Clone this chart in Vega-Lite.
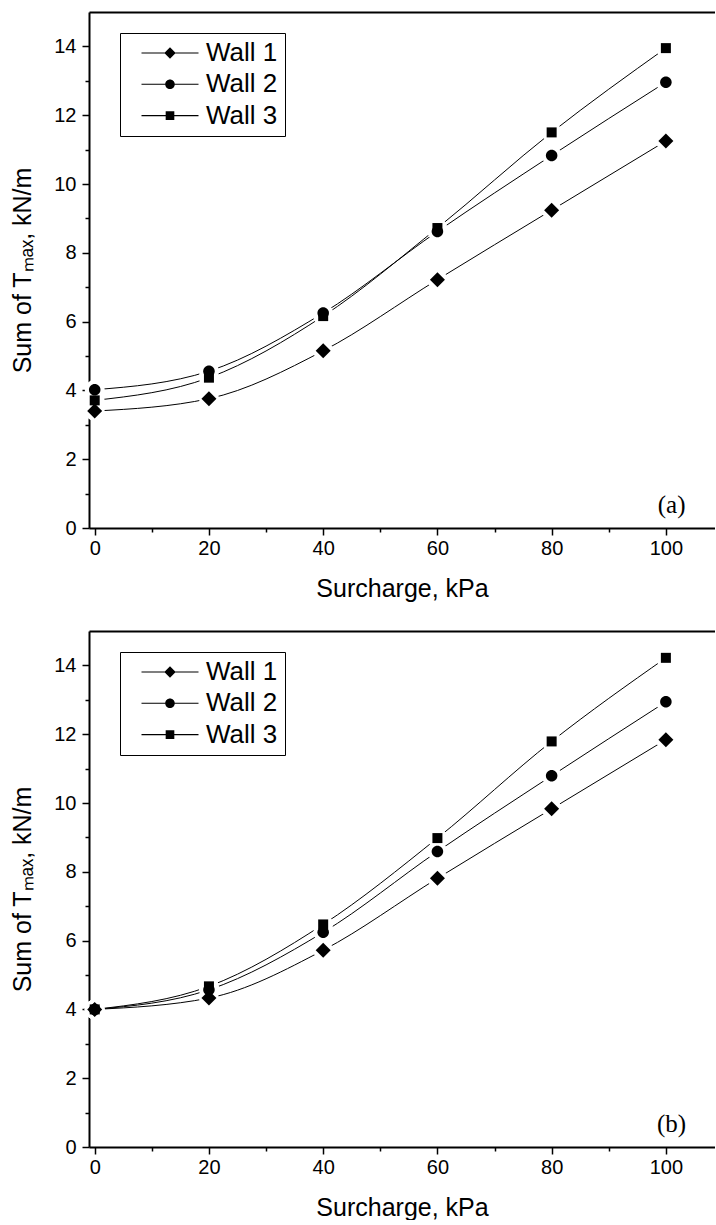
{
  "$schema": "https://vega.github.io/schema/vega-lite/v6.json",
  "padding": {"left": 10, "top": 12, "right": 0, "bottom": 0},
  "spacing": 30,
  "resolve": {"scale": {"shape": "independent"}, "legend": {"shape": "independent"}},
  "datasets": {
    "pts": [
      {"panel": "a", "wall": "Wall 1", "surcharge": 0, "tmax": 3.40},
      {"panel": "a", "wall": "Wall 1", "surcharge": 20, "tmax": 3.76},
      {"panel": "a", "wall": "Wall 1", "surcharge": 40, "tmax": 5.15},
      {"panel": "a", "wall": "Wall 1", "surcharge": 60, "tmax": 7.22},
      {"panel": "a", "wall": "Wall 1", "surcharge": 80, "tmax": 9.24},
      {"panel": "a", "wall": "Wall 1", "surcharge": 100, "tmax": 11.25},
      {"panel": "a", "wall": "Wall 2", "surcharge": 0, "tmax": 4.02},
      {"panel": "a", "wall": "Wall 2", "surcharge": 20, "tmax": 4.56},
      {"panel": "a", "wall": "Wall 2", "surcharge": 40, "tmax": 6.25},
      {"panel": "a", "wall": "Wall 2", "surcharge": 60, "tmax": 8.62},
      {"panel": "a", "wall": "Wall 2", "surcharge": 80, "tmax": 10.83},
      {"panel": "a", "wall": "Wall 2", "surcharge": 100, "tmax": 12.96},
      {"panel": "a", "wall": "Wall 3", "surcharge": 0, "tmax": 3.71},
      {"panel": "a", "wall": "Wall 3", "surcharge": 20, "tmax": 4.37},
      {"panel": "a", "wall": "Wall 3", "surcharge": 40, "tmax": 6.16},
      {"panel": "a", "wall": "Wall 3", "surcharge": 60, "tmax": 8.72},
      {"panel": "a", "wall": "Wall 3", "surcharge": 80, "tmax": 11.50},
      {"panel": "a", "wall": "Wall 3", "surcharge": 100, "tmax": 13.95},
      {"panel": "b", "wall": "Wall 1", "surcharge": 0, "tmax": 4.0},
      {"panel": "b", "wall": "Wall 1", "surcharge": 20, "tmax": 4.33},
      {"panel": "b", "wall": "Wall 1", "surcharge": 40, "tmax": 5.72},
      {"panel": "b", "wall": "Wall 1", "surcharge": 60, "tmax": 7.81},
      {"panel": "b", "wall": "Wall 1", "surcharge": 80, "tmax": 9.83},
      {"panel": "b", "wall": "Wall 1", "surcharge": 100, "tmax": 11.84},
      {"panel": "b", "wall": "Wall 2", "surcharge": 0, "tmax": 4.0},
      {"panel": "b", "wall": "Wall 2", "surcharge": 20, "tmax": 4.57},
      {"panel": "b", "wall": "Wall 2", "surcharge": 40, "tmax": 6.24},
      {"panel": "b", "wall": "Wall 2", "surcharge": 60, "tmax": 8.59},
      {"panel": "b", "wall": "Wall 2", "surcharge": 80, "tmax": 10.79},
      {"panel": "b", "wall": "Wall 2", "surcharge": 100, "tmax": 12.94},
      {"panel": "b", "wall": "Wall 3", "surcharge": 0, "tmax": 4.0},
      {"panel": "b", "wall": "Wall 3", "surcharge": 20, "tmax": 4.67},
      {"panel": "b", "wall": "Wall 3", "surcharge": 40, "tmax": 6.47},
      {"panel": "b", "wall": "Wall 3", "surcharge": 60, "tmax": 8.98},
      {"panel": "b", "wall": "Wall 3", "surcharge": 80, "tmax": 11.79},
      {"panel": "b", "wall": "Wall 3", "surcharge": 100, "tmax": 14.22}
    ]
  },
  "vconcat": [
    {
      "width": 626, "height": 516,
      "data": {"name": "pts"},
      "transform": [{"filter": "datum.panel === 'a'"}],
      "layer": [
        {
          "mark": {"type": "line", "interpolate": "monotone", "color": "black", "strokeWidth": 1},
          "encoding": {
            "x": {"field": "surcharge", "type": "quantitative", "scale": {"domain": [-1, 108.6], "nice": false, "zero": false},
              "axis": {"orient": "bottom", "values": [0, 20, 40, 60, 80, 100], "tickSize": 7, "tickWidth": 1.5, "domainWidth": 2, "labelPadding": 3, "labelFlush": false, "title": "Surcharge, kPa", "titlePadding": 18}},
            "y": {"field": "tmax", "type": "quantitative", "scale": {"domain": [0, 15], "nice": false},
              "axis": {"orient": "left", "values": [0, 2, 4, 6, 8, 10, 12, 14], "tickSize": 7, "tickWidth": 1.5, "domainWidth": 2, "labelPadding": 6, "title": "Sum of Tₘₐₓ, kN/m", "titlePadding": 18}},
            "detail": {"field": "wall"}
          }
        },
        {
          "mark": {"type": "point", "filled": true, "color": "white", "opacity": 1, "shape": "circle", "size": 400},
          "encoding": {
            "x": {"field": "surcharge", "type": "quantitative",
              "axis": {"orient": "bottom", "values": [10, 30, 50, 70, 90], "tickSize": 4, "tickWidth": 1.5, "labels": false, "domain": false, "title": null}},
            "y": {"field": "tmax", "type": "quantitative",
              "axis": {"orient": "left", "values": [1, 3, 5, 7, 9, 11, 13], "tickSize": 4, "tickWidth": 1.5, "labels": false, "domain": false, "title": null}}
          }
        },
        {
          "mark": {"type": "point", "filled": true, "color": "black", "opacity": 1, "size": 100},
          "encoding": {
            "x": {"field": "surcharge", "type": "quantitative",
              "axis": {"orient": "top", "ticks": false, "labels": false, "domainWidth": 2, "title": null}},
            "y": {"field": "tmax", "type": "quantitative", "axis": null},
            "shape": {"field": "wall", "type": "nominal", "scale": {"domain": ["Wall 1", "Wall 2", "Wall 3"], "range": ["M0,-1.5L1.5,0L0,1.5L-1.5,0Z", "M-1.15,0A1.15,1.15,0,1,1,1.15,0A1.15,1.15,0,1,1,-1.15,0Z", "M-1,-1H1V1H-1Z"]}, "legend": null}
          }
        },
        {
          "mark": {"type": "point", "filled": true, "color": "black", "opacity": 0, "size": 144},
          "encoding": {
            "x": {"field": "surcharge", "type": "quantitative", "axis": null},
            "y": {"field": "tmax", "type": "quantitative", "axis": null},
            "shape": {"field": "wall", "type": "nominal", "scale": {"domain": ["Wall 1", "Wall 2", "Wall 3"], "range": ["M-4.75,-0.09H-0.9V0.09H-4.75ZM0.9,-0.09H4.75V0.09H0.9ZM0,-0.95L0.95,0L0,0.95L-0.95,0Z", "M-4.75,-0.09H-0.8V0.09H-4.75ZM0.8,-0.09H4.75V0.09H0.8ZM-0.8,0A0.8,0.8,0,1,1,0.8,0A0.8,0.8,0,1,1,-0.8,0Z", "M-4.75,-0.09H-0.72V0.09H-4.75ZM0.72,-0.09H4.75V0.09H0.72ZM-0.72,-0.72H0.72V0.72H-0.72Z"]},
              "legend": {"title": null, "orient": "none", "legendX": 31, "legendY": 21, "padding": 7, "rowPadding": 5.3, "symbolSize": 144, "symbolOpacity": 1, "symbolFillColor": "black", "symbolStrokeColor": "black", "symbolStrokeWidth": 0, "symbolOffset": 30, "labelOffset": 23, "labelFontSize": 26, "labelFont": "Liberation Sans", "labelColor": "black", "strokeColor": "black"}}
          }
        },
        {
          "data": {"values": [{"label": "(a)"}]},
          "mark": {"type": "text", "font": "Liberation Serif", "fontSize": 25, "align": "center", "baseline": "alphabetic", "color": "black"},
          "encoding": {
            "x": {"datum": 101, "type": "quantitative", "axis": null},
            "y": {"datum": 0.45, "type": "quantitative", "axis": null},
            "text": {"field": "label"}
          }
        }
      ],
      "resolve": {"axis": {"x": "independent", "y": "independent"}, "scale": {"shape": "independent"}}
    },
    {
      "width": 626, "height": 516,
      "data": {"name": "pts"},
      "transform": [{"filter": "datum.panel === 'b'"}],
      "layer": [
        {
          "mark": {"type": "line", "interpolate": "monotone", "color": "black", "strokeWidth": 1},
          "encoding": {
            "x": {"field": "surcharge", "type": "quantitative", "scale": {"domain": [-1, 108.6], "nice": false, "zero": false},
              "axis": {"orient": "bottom", "values": [0, 20, 40, 60, 80, 100], "tickSize": 7, "tickWidth": 1.5, "domainWidth": 2, "labelPadding": 3, "labelFlush": false, "title": "Surcharge, kPa", "titlePadding": 18}},
            "y": {"field": "tmax", "type": "quantitative", "scale": {"domain": [0, 15], "nice": false},
              "axis": {"orient": "left", "values": [0, 2, 4, 6, 8, 10, 12, 14], "tickSize": 7, "tickWidth": 1.5, "domainWidth": 2, "labelPadding": 6, "title": "Sum of Tₘₐₓ, kN/m", "titlePadding": 18}},
            "detail": {"field": "wall"}
          }
        },
        {
          "mark": {"type": "point", "filled": true, "color": "white", "opacity": 1, "shape": "circle", "size": 400},
          "encoding": {
            "x": {"field": "surcharge", "type": "quantitative",
              "axis": {"orient": "bottom", "values": [10, 30, 50, 70, 90], "tickSize": 4, "tickWidth": 1.5, "labels": false, "domain": false, "title": null}},
            "y": {"field": "tmax", "type": "quantitative",
              "axis": {"orient": "left", "values": [1, 3, 5, 7, 9, 11, 13], "tickSize": 4, "tickWidth": 1.5, "labels": false, "domain": false, "title": null}}
          }
        },
        {
          "mark": {"type": "point", "filled": true, "color": "black", "opacity": 1, "size": 100},
          "encoding": {
            "x": {"field": "surcharge", "type": "quantitative",
              "axis": {"orient": "top", "ticks": false, "labels": false, "domainWidth": 2, "title": null}},
            "y": {"field": "tmax", "type": "quantitative", "axis": null},
            "shape": {"field": "wall", "type": "nominal", "scale": {"domain": ["Wall 1", "Wall 2", "Wall 3"], "range": ["M0,-1.5L1.5,0L0,1.5L-1.5,0Z", "M-1.15,0A1.15,1.15,0,1,1,1.15,0A1.15,1.15,0,1,1,-1.15,0Z", "M-1,-1H1V1H-1Z"]}, "legend": null}
          }
        },
        {
          "mark": {"type": "point", "filled": true, "color": "black", "opacity": 0, "size": 144},
          "encoding": {
            "x": {"field": "surcharge", "type": "quantitative", "axis": null},
            "y": {"field": "tmax", "type": "quantitative", "axis": null},
            "shape": {"field": "wall", "type": "nominal", "scale": {"domain": ["Wall 1", "Wall 2", "Wall 3"], "range": ["M-4.75,-0.09H-0.9V0.09H-4.75ZM0.9,-0.09H4.75V0.09H0.9ZM0,-0.95L0.95,0L0,0.95L-0.95,0Z", "M-4.75,-0.09H-0.8V0.09H-4.75ZM0.8,-0.09H4.75V0.09H0.8ZM-0.8,0A0.8,0.8,0,1,1,0.8,0A0.8,0.8,0,1,1,-0.8,0Z", "M-4.75,-0.09H-0.72V0.09H-4.75ZM0.72,-0.09H4.75V0.09H0.72ZM-0.72,-0.72H0.72V0.72H-0.72Z"]},
              "legend": {"title": null, "orient": "none", "legendX": 31, "legendY": 21, "padding": 7, "rowPadding": 5.3, "symbolSize": 144, "symbolOpacity": 1, "symbolFillColor": "black", "symbolStrokeColor": "black", "symbolStrokeWidth": 0, "symbolOffset": 30, "labelOffset": 23, "labelFontSize": 26, "labelFont": "Liberation Sans", "labelColor": "black", "strokeColor": "black"}}
          }
        },
        {
          "data": {"values": [{"label": "(b)"}]},
          "mark": {"type": "text", "font": "Liberation Serif", "fontSize": 25, "align": "center", "baseline": "alphabetic", "color": "black"},
          "encoding": {
            "x": {"datum": 101, "type": "quantitative", "axis": null},
            "y": {"datum": 0.45, "type": "quantitative", "axis": null},
            "text": {"field": "label"}
          }
        }
      ],
      "resolve": {"axis": {"x": "independent", "y": "independent"}, "scale": {"shape": "independent"}}
    }
  ],
  "config": {
    "view": {"stroke": null},
    "axis": {"grid": false, "labelFont": "Liberation Sans", "titleFont": "Liberation Sans", "labelFontSize": 20, "titleFontSize": 25, "titleFontWeight": "normal", "labelColor": "black", "titleColor": "black", "domainColor": "black", "tickColor": "black"},
    "legend": {"labelFont": "Liberation Sans"}
  }
}
